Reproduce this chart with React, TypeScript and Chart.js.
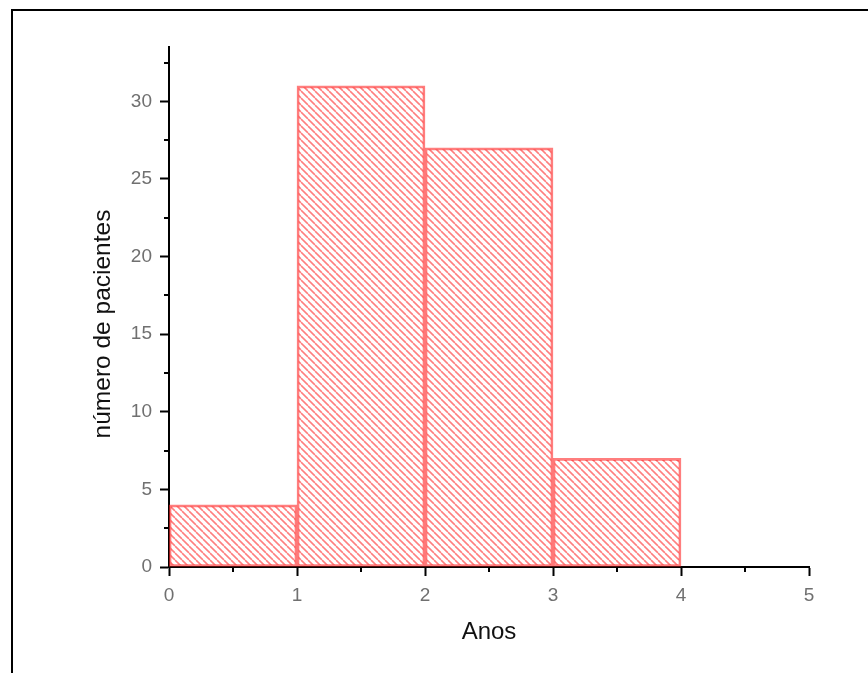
import React, { useEffect, useRef } from "react";
import { Chart, registerables } from "chart.js";

Chart.register(...registerables);

// Histogram bins (years) and counts
const binStarts = [0, 1, 2, 3];
const binEnds = [1, 2, 3, 4];
const counts = [4, 31, 27, 7];

const xTitle = "Anos";
const yTitle = "número de pacientes";
const xMin = 0;
const xMax = 5;
const yMin = 0;
const yMax = 33.5;
const yStep = 5;
const xStep = 1;

const FONT = "'Liberation Sans', Arial, sans-serif";

function makeHatch(): CanvasPattern | string {
  const s = 7;
  const c = document.createElement("canvas");
  c.width = s;
  c.height = s;
  const g = c.getContext("2d");
  if (!g) return "rgba(255,0,0,0.4)";
  g.strokeStyle = "rgba(255,0,0,0.5)";
  g.lineWidth = 1.6;
  for (const k of [-s, 0, s]) {
    g.beginPath();
    g.moveTo(k, 0);
    g.lineTo(k + s, s);
    g.stroke();
  }
  const p = g.createPattern(c, "repeat");
  return p || "rgba(255,0,0,0.4)";
}

const decorPlugin = {
  id: "decor",
  beforeDraw(chart: any) {
    const ctx = chart.ctx;
    ctx.save();
    ctx.fillStyle = "#000";
    ctx.fillRect(11, 9, chart.width, 2);
    ctx.fillRect(11, 9, 2, chart.height);
    ctx.restore();
  },
  afterDraw(chart: any) {
    const ctx = chart.ctx;
    const xs = chart.scales.x;
    const ys = chart.scales.y;
    ctx.save();
    ctx.strokeStyle = "#000";
    ctx.lineWidth = 2;
    const xt = xs.ticks.map((t: any) => t.value);
    const xstep = xt.length > 1 ? xt[1] - xt[0] : 1;
    for (let v = xt[0] + xstep / 2; v <= xs.max; v += xstep) {
      const px = Math.round(xs.getPixelForValue(v));
      ctx.beginPath();
      ctx.moveTo(px, xs.top);
      ctx.lineTo(px, xs.top + 5);
      ctx.stroke();
    }
    const yt = ys.ticks.map((t: any) => t.value);
    const ystep = yt.length > 1 ? yt[1] - yt[0] : 1;
    for (let v = yt[0] + ystep / 2; v <= ys.max; v += ystep) {
      const py = Math.round(ys.getPixelForValue(v));
      ctx.beginPath();
      ctx.moveTo(ys.right - 5, py);
      ctx.lineTo(ys.right, py);
      ctx.stroke();
    }
    const cy = (ys.top + ys.bottom) / 2 + 17;
    ctx.translate(103, cy);
    ctx.rotate(-Math.PI / 2);
    ctx.fillStyle = "#111";
    ctx.font = `24.5px ${FONT}`;
    ctx.textAlign = "center";
    ctx.textBaseline = "middle";
    ctx.fillText(yTitle, 0, 0);
    ctx.restore();
  },
};

export default function App() {
  const ref = useRef<HTMLCanvasElement | null>(null);
  useEffect(() => {
    if (!ref.current) return;
    const hatch = makeHatch();
    const data = counts.map((c, i) => ({ x: (binStarts[i] + binEnds[i]) / 2, y: c }));
    const chart = new Chart(ref.current, {
      type: "bar",
      data: {
        datasets: [
          {
            data: data as any,
            backgroundColor: hatch as any,
            borderColor: "rgba(255,40,40,0.6)",
            borderWidth: 2,
            borderSkipped: false,
            barPercentage: 1,
            categoryPercentage: 1,
          },
        ],
      },
      options: {
        animation: false,
        responsive: false,
        maintainAspectRatio: false,
        layout: { padding: { left: 0, right: 59, top: 47, bottom: 0 } },
        plugins: { legend: { display: false }, tooltip: { enabled: false } },
        scales: {
          x: {
            type: "linear",
            min: xMin,
            max: xMax,
            offset: false,
            ticks: {
              stepSize: xStep,
              color: "#707070",
              font: { family: FONT, size: 19 },
              padding: 8,
              maxRotation: 0,
            },
            grid: {
              display: true,
              offset: false,
              drawOnChartArea: false,
              drawTicks: true,
              tickLength: 9,
              tickColor: "#000",
              tickWidth: 2,
            },
            border: { display: true, color: "#000", width: 2 },
            title: {
              display: true,
              text: xTitle,
              color: "#111",
              font: { family: FONT, size: 24 },
              padding: { top: 0, bottom: 26 },
            },
            afterFit(scale: any) {
              scale.height = 106;
            },
          },
          y: {
            type: "linear",
            min: yMin,
            max: yMax,
            ticks: {
              stepSize: yStep,
              includeBounds: false,
              color: "#707070",
              font: { family: FONT, size: 19 },
              padding: 8,
            },
            grid: {
              display: true,
              drawOnChartArea: false,
              drawTicks: true,
              tickLength: 9,
              tickColor: "#000",
              tickWidth: 2,
            },
            border: { display: true, color: "#000", width: 2 },
            afterFit(scale: any) {
              scale.width = 169;
            },
          },
        },
      },
      plugins: [decorPlugin],
    });
    return () => chart.destroy();
  }, []);
  return (
    <div style={{ position: "absolute", left: 0, top: 0, width: 868, height: 673, overflow: "hidden", background: "#fff" }}>
      <canvas ref={ref} width={868} height={673} style={{ display: "block" }} />
    </div>
  );
}
